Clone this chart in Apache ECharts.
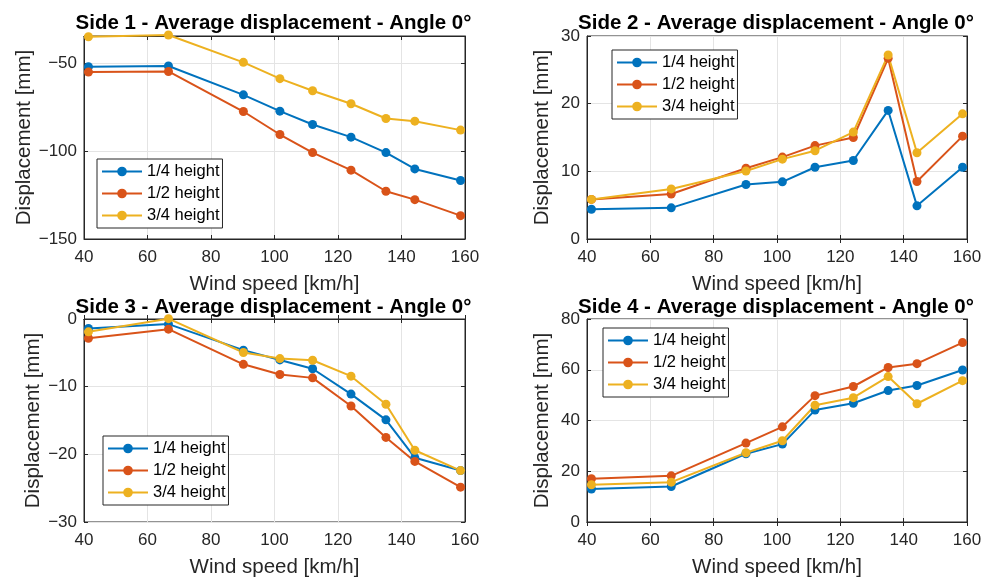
<!DOCTYPE html>
<html>
<head>
<meta charset="utf-8">
<script src="https://cdn.jsdelivr.net/npm/echarts@6/dist/echarts.min.js"></script>
<style>html,body{margin:0;padding:0;background:#fff}#c{width:992px;height:581px}</style>
</head>
<body>
<div id="c"></div>
<script>
const windSpeed = [41.4, 66.6, 90.2, 101.7, 112, 124.1, 135.1, 144.2, 158.6];
const seriesNames = ['1/4 height', '1/2 height', '3/4 height'];
const titles = [
  'Side 1 - Average displacement - Angle 0°',
  'Side 2 - Average displacement - Angle 0°',
  'Side 3 - Average displacement - Angle 0°',
  'Side 4 - Average displacement - Angle 0°'
];
const xTicks = [40, 60, 80, 100, 120, 140, 160];

const side1Quarter = [-51.9, -51.5, -67.9, -77.2, -84.8, -92.0, -100.8, -110.1, -116.7];
const side1Half = [-54.9, -54.6, -77.4, -90.5, -100.8, -110.8, -122.8, -127.6, -136.7];
const side1ThreeQ = [-34.8, -33.8, -49.4, -58.7, -65.6, -73.0, -81.4, -82.9, -88.0];

const side2Quarter = [4.4, 4.6, 8.05, 8.45, 10.6, 11.6, 19.0, 4.9, 10.6];
const side2Half = [5.85, 6.65, 10.45, 12.1, 13.8, 15.0, 26.7, 8.5, 15.2];
const side2ThreeQ = [5.85, 7.4, 10.05, 11.8, 13.05, 15.8, 27.2, 12.75, 18.5];

const side3Quarter = [-1.4, -0.75, -4.6, -6.05, -7.35, -11.1, -14.9, -20.5, -22.4];
const side3Half = [-2.85, -1.5, -6.7, -8.2, -8.7, -12.85, -17.5, -21.05, -24.85];
const side3ThreeQ = [-1.9, 0.05, -4.95, -5.85, -6.1, -8.45, -12.6, -19.4, -22.4];

const side4Quarter = [13.0, 14.0, 26.9, 30.7, 44.1, 46.8, 51.8, 53.8, 59.9];
const side4Half = [17.05, 18.2, 31.1, 37.5, 49.8, 53.4, 60.9, 62.4, 70.7];
const side4ThreeQ = [14.7, 15.7, 27.3, 32.0, 46.0, 49.0, 57.3, 46.6, 55.7];

const yRanges = [
  {min: -150, max: -34.4, interval: 50},
  {min: 0, max: 30, interval: 10},
  {min: -30, max: 0, interval: 10},
  {min: 0, max: 80, interval: 20}
];
const sides = [
  [side1Quarter, side1Half, side1ThreeQ],
  [side2Quarter, side2Half, side2ThreeQ],
  [side3Quarter, side3Half, side3ThreeQ],
  [side4Quarter, side4Half, side4ThreeQ]
];
const colors = ['#0072BD', '#D95319', '#EDB120'];

const font = 'Liberation Sans, Arial, Helvetica, sans-serif';
const axisColor = '#262626';
const gridColor = '#e4e4e4';
const grids = [
  {left: 84, top: 36, width: 381, height: 203},
  {left: 587, top: 36, width: 380, height: 203},
  {left: 84, top: 319, width: 381, height: 203},
  {left: 587, top: 319, width: 380, height: 203}
];
const yNameGaps = [49, 34, 39, 34];
const legendPos = [
  {left: 97, top: 159},
  {left: 612, top: 50},
  {left: 103, top: 436},
  {left: 603, top: 328}
];
const titleTops = [8, 8, 292, 292];
const minusFmt = v => String(v).replace('-', '\u2212');

const xAxes = [];
const yAxes = [];
grids.forEach((g, i) => {
  xAxes.push({
    type: 'value', gridIndex: i, min: xTicks[0], max: xTicks[xTicks.length - 1], interval: 20,
    name: 'Wind speed [km/h]', nameLocation: 'middle', nameGap: 35,
    nameTextStyle: {fontFamily: font, fontSize: 20.5, color: axisColor},
    axisLine: {show: true, lineStyle: {color: axisColor, width: 1}},
    axisTick: {show: true, inside: true, length: 4, lineStyle: {color: axisColor}},
    axisLabel: {fontFamily: font, fontSize: 17, color: axisColor, margin: 10},
    splitLine: {show: true, lineStyle: {color: gridColor, width: 1}}
  });
  yAxes.push({
    type: 'value', gridIndex: i, min: yRanges[i].min, max: yRanges[i].max, interval: yRanges[i].interval,
    name: 'Displacement [mm]', nameLocation: 'middle', nameGap: yNameGaps[i],
    nameTextStyle: {fontFamily: font, fontSize: 20.5, color: axisColor},
    axisLine: {show: true, lineStyle: {color: axisColor, width: 1}},
    axisTick: {show: true, inside: true, length: 4, lineStyle: {color: axisColor}},
    axisLabel: {fontFamily: font, fontSize: 17, color: axisColor, margin: 7,
      showMaxLabel: i !== 0, formatter: minusFmt},
    splitLine: {show: true, lineStyle: {color: gridColor, width: 1}}
  });
});
// mirrored box ticks (top and right), as in the reference
grids.forEach((g, i) => {
  xAxes.push({
    type: 'value', gridIndex: i, position: 'top', min: xTicks[0], max: xTicks[xTicks.length - 1], interval: 20,
    axisLine: {show: true, lineStyle: {color: axisColor, width: 1}},
    axisTick: {show: true, inside: true, length: 4, lineStyle: {color: axisColor}},
    axisLabel: {show: false}, splitLine: {show: false}
  });
  yAxes.push({
    type: 'value', gridIndex: i, position: 'right', min: yRanges[i].min, max: yRanges[i].max, interval: yRanges[i].interval,
    axisLine: {show: true, lineStyle: {color: axisColor, width: 1}},
    axisTick: {show: true, inside: true, length: 4, lineStyle: {color: axisColor}},
    axisLabel: {show: false}, splitLine: {show: false}
  });
});

const option = {
  animation: false,
  backgroundColor: '#fff',
  color: colors,
  title: grids.map((g, i) => ({
    text: titles[i],
    left: g.left + g.width / 2 - 6,
    top: titleTops[i],
    textAlign: 'center',
    textStyle: {fontFamily: font, fontSize: 20.5, fontWeight: 'bold', color: '#000'}
  })),
  grid: grids.map(g => Object.assign({show: true, borderColor: axisColor, borderWidth: 1, backgroundColor: '#fff'}, g)),
  legend: legendPos.map(p => ({
    orient: 'vertical', left: p.left, top: p.top,
    data: seriesNames, selectedMode: false,
    itemWidth: 40, itemHeight: 12, itemGap: 5,
    padding: [4, 3, 4, 4],
    borderColor: axisColor, borderWidth: 1, backgroundColor: '#fff',
    textStyle: {fontFamily: font, fontSize: 16.5, color: '#000'}
  })),
  xAxis: xAxes,
  yAxis: yAxes,
  series: []
};

sides.forEach((arrs, i) => {
  arrs.forEach((arr, k) => {
    option.series.push({
      type: 'line', name: seriesNames[k], xAxisIndex: i, yAxisIndex: i,
      data: windSpeed.map((x, j) => [x, arr[j]]),
      symbol: 'circle', symbolSize: 9, clip: false,
      lineStyle: {width: 2, color: colors[k]},
      itemStyle: {color: colors[k]}
    });
  });
});

const chart = echarts.init(document.getElementById('c'));
chart.setOption(option);
</script>
</body>
</html>
